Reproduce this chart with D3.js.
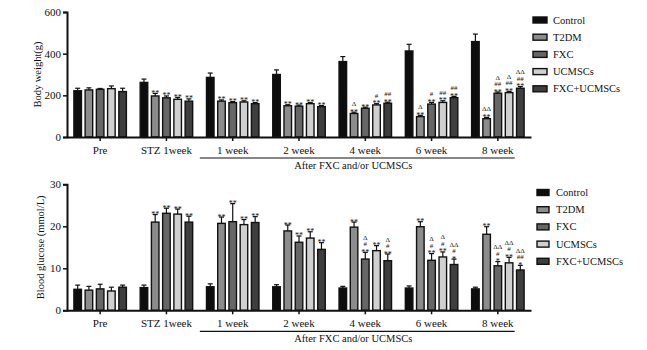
<!DOCTYPE html>
<html><head><meta charset="utf-8">
<script src="https://cdn.jsdelivr.net/npm/d3@7/dist/d3.min.js"></script>
<style>body{margin:0;background:#fff}svg{display:block}text{font-family:"Liberation Serif","DejaVu Serif",serif;fill:#111}</style>
</head><body>
<svg id="c" width="647" height="350"></svg>
<script>
const groups = ["Pre","STZ 1week","1 week","2 week","4 week","6 week","8 week"];
const seriesNames = ["Control","T2DM","FXC","UCMSCs","FXC+UCMSCs"];
const seriesColors = ["#0d0d0d","#8c8c8c","#666666","#d0d0d0","#3e3e3e"];

// Body weight (g)
const bwControl = [222, 262, 286, 300, 362, 413, 458];
const bwT2DM    = [226, 197, 172, 150, 113, 98, 88];
const bwFXC     = [229, 188, 165, 148, 138, 158, 210];
const bwUCMSCs  = [232, 181, 168, 160, 154, 166, 213];
const bwCombo   = [218, 172, 160, 146, 162, 189, 234];
const bwControlErr = [12, 16, 21, 22, 24, 32, 36];
const bwT2DMErr    = [10, 12, 6, 5, 6, 6, 6];
const bwFXCErr     = [4, 9, 5, 5, 5, 8, 6];
const bwUCMSCsErr  = [13, 9, 6, 5, 6, 8, 6];
const bwComboErr   = [16, 11, 5, 5, 5, 6, 8];
const bwTicks = [0, 200, 400, 600];
// annotations, bottom to top, per group
const bwT2DMAnn   = [[],["**"],["**"],["**"],["**","Δ"],["**","Δ"],["**","ΔΔ"]];
const bwFXCAnn    = [[],["**"],["**"],["**"],["**"],["**","#"],["**","##","Δ"]];
const bwUCMSCsAnn = [[],["**"],["**"],["**"],["**","#"],["**","##"],["**","##","Δ"]];
const bwComboAnn  = [[],["**"],["**"],["**"],["**","##"],["**","##"],["**","##","ΔΔ"]];

// Blood glucose (mmol/L)
const bgControl = [5.0, 5.4, 5.6, 5.6, 5.3, 5.3, 5.1];
const bgT2DM    = [4.8, 21.0, 20.7, 18.9, 19.8, 19.9, 18.1];
const bgFXC     = [5.1, 23.1, 21.1, 16.2, 12.2, 11.9, 10.6];
const bgUCMSCs  = [4.6, 22.9, 20.4, 17.2, 14.2, 12.7, 11.3];
const bgCombo   = [5.5, 21.0, 20.9, 14.5, 11.8, 10.9, 9.6];
const bgControlErr = [1.0, 0.6, 0.7, 0.5, 0.4, 0.5, 0.4];
const bgT2DMErr    = [0.9, 1.8, 1.5, 1.4, 1.2, 1.2, 1.8];
const bgFXCErr     = [1.1, 1.2, 4.3, 1.5, 1.6, 1.6, 1.0];
const bgUCMSCsErr  = [0.9, 1.2, 1.2, 1.5, 1.2, 1.2, 1.3];
const bgComboErr   = [0.5, 1.4, 1.4, 1.6, 1.6, 1.3, 1.1];
const bgTicks = [0, 10, 20, 30];
const bgT2DMAnn   = [[],["**"],["**"],["**"],["**"],["**"],["**"]];
const bgFXCAnn    = [[],["**"],["**"],["**"],["**","#","Δ"],["**","#","Δ"],["*","#","ΔΔ"]];
const bgUCMSCsAnn = [[],["**"],["**"],["**"],["**"],["**","#","Δ"],["**","#","ΔΔ"]];
const bgComboAnn  = [[],["**"],["**"],["**"],["**","#","Δ"],["*","#","ΔΔ"],["*","##","ΔΔ"]];

const svg = d3.select("#c");
const SERIF = '"Liberation Serif","DejaVu Serif",serif';

function drawPanel(cfg) {
  const g = svg.append("g");
  const x0 = d3.scaleBand().domain(groups).range([67, 531]).paddingInner(0.19).paddingOuter(0.095);
  const x1 = d3.scaleBand().domain(seriesNames).range([0, x0.bandwidth()]).paddingInner(0.22);
  const y = d3.scaleLinear().domain(cfg.domain).range([cfg.yBottom, cfg.yTop]);

  seriesNames.forEach((s, si) => {
    const vals = cfg.values[si], errs = cfg.errors[si], ann = cfg.ann[si];
    groups.forEach((gr, gi) => {
      const bx = x0(gr) + x1(s), bw = x1.bandwidth();
      const top = y(vals[gi]);
      const etop = y(vals[gi] + errs[gi]);
      const cx = bx + bw / 2;
      g.append("line").attr("x1", cx).attr("x2", cx).attr("y1", top).attr("y2", etop)
        .attr("stroke", "#111").attr("stroke-width", 1.2);
      g.append("line").attr("x1", cx - 2.5).attr("x2", cx + 2.5).attr("y1", etop).attr("y2", etop)
        .attr("stroke", "#111").attr("stroke-width", 1.2);
      g.append("rect").attr("x", bx + 0.6).attr("y", top).attr("width", bw - 1.2)
        .attr("height", y(0) - top).attr("fill", seriesColors[si])
        .attr("stroke", "#111").attr("stroke-width", 1.4);
      if (ann) {
        let yy = etop - 1;
        ann[gi].forEach(t => {
          const star = t.indexOf("*") >= 0;
          g.append("text").attr("x", cx).attr("y", yy + (star ? 3.5 : 0)).attr("text-anchor", "middle")
            .attr("font-size", star ? 8 : 7).text(t);
          yy -= star ? 5 : 6.5;
        });
      }
    });
  });

  // y axis
  const ya = d3.axisLeft(y).tickValues(cfg.ticks).tickSize(4).tickPadding(2);
  const yg = g.append("g").attr("transform", "translate(67,0)").call(ya).attr("font-family", SERIF);
  yg.select(".domain").attr("stroke-width", 2).attr("stroke", "#111");
  yg.selectAll(".tick line").attr("stroke-width", 1.5).attr("stroke", "#111");
  yg.selectAll(".tick text").attr("font-size", 11).attr("fill", "#111");
  // x axis
  const xa = d3.axisBottom(x0).tickSize(4).tickSizeOuter(0).tickPadding(5);
  const xg = g.append("g").attr("transform", `translate(0,${cfg.yBottom})`).call(xa).attr("font-family", SERIF);
  xg.select(".domain").attr("stroke-width", 2).attr("stroke", "#111");
  xg.selectAll(".tick line").attr("stroke-width", 1.5).attr("stroke", "#111");
  xg.selectAll(".tick text").attr("font-size", 11).attr("fill", "#111");

  // bracket line and label
  const lx1 = x0("1 week") - 6, lx2 = x0("8 week") + x0.bandwidth() - 10;
  g.append("line").attr("x1", lx1).attr("x2", lx2).attr("y1", cfg.yBottom + 21).attr("y2", cfg.yBottom + 21)
    .attr("stroke", "#111").attr("stroke-width", 1.2);
  g.append("text").attr("x", (lx1 + lx2) / 2 - 4).attr("y", cfg.yBottom + 32).attr("text-anchor", "middle")
    .attr("font-size", 10.5).text("After FXC and/or UCMSCs");

  // y title
  g.append("text").attr("transform", `translate(${cfg.titleX},${(cfg.yTop + cfg.yBottom) / 2}) rotate(-90)`)
    .attr("text-anchor", "middle").attr("font-size", 10.5).text(cfg.title);

  // legend
  seriesNames.forEach((s, si) => {
    const ly = cfg.legY + si * 17.2;
    g.append("rect").attr("x", cfg.legX).attr("y", ly - 3).attr("width", cfg.legW).attr("height", 6)
      .attr("fill", seriesColors[si]).attr("stroke", "#111").attr("stroke-width", 1.4);
    g.append("text").attr("x", cfg.legTextX).attr("y", ly + 3.5).attr("font-size", 10.5).text(s);
  });
}

drawPanel({
  domain: [0, 600], yTop: 12, yBottom: 137, ticks: bwTicks,
  values: [bwControl, bwT2DM, bwFXC, bwUCMSCs, bwCombo],
  errors: [bwControlErr, bwT2DMErr, bwFXCErr, bwUCMSCsErr, bwComboErr],
  ann: [null, bwT2DMAnn, bwFXCAnn, bwUCMSCsAnn, bwComboAnn],
  title: "Body weight(g)", titleX: 41,
  legY: 20, legX: 533, legW: 14, legTextX: 553
});
drawPanel({
  domain: [0, 30], yTop: 184.3, yBottom: 310.3, ticks: bgTicks,
  values: [bgControl, bgT2DM, bgFXC, bgUCMSCs, bgCombo],
  errors: [bgControlErr, bgT2DMErr, bgFXCErr, bgUCMSCsErr, bgComboErr],
  ann: [null, bgT2DMAnn, bgFXCAnn, bgUCMSCsAnn, bgComboAnn],
  title: "Blood glucose (mmol/L)", titleX: 44,
  legY: 192.5, legX: 537, legW: 12, legTextX: 556
});
</script>
</body></html>
